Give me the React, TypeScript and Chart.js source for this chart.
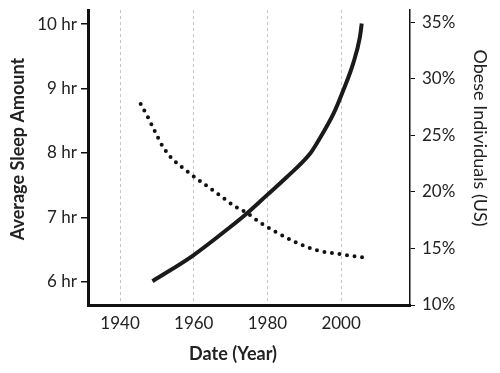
import React, { useEffect, useRef } from "react";
import { Chart, registerables } from "chart.js";

Chart.register(...registerables);

const obesityYears = [1948.8, 1959.9, 1969.9, 1974.4, 1979.8, 1985.2, 1991.6, 1993.4, 1997.9, 2000.6, 2003.3, 2005.1, 2005.6];
const obesityValues = [12.1, 14.4, 16.9, 18.1, 19.7, 21.3, 23.4, 24.3, 26.9, 29.0, 31.4, 33.7, 34.9];

const sleepYears = [1945.6, 1947.7, 1949.5, 1951.5, 1954, 1957.2, 1960.4, 1964, 1967.6, 1971.2, 1974.4, 1978, 1981.8, 1987.5, 1993.4, 1999.7, 2005.9];
const sleepValues = [8.76, 8.54, 8.33, 8.11, 7.92, 7.76, 7.62, 7.47, 7.32, 7.17, 7.07, 6.92, 6.79, 6.62, 6.49, 6.43, 6.38];

const xTicks = [1940, 1960, 1980, 2000];
const sleepTicks = [6, 7, 8, 9, 10];
const obesityTicks = [10, 15, 20, 25, 30, 35];

const FONT = "Lato";

export default function App() {
  const ref = useRef<HTMLCanvasElement | null>(null);
  useEffect(() => {
    if (!ref.current) return;
    const titles = {
      id: "axisTitles",
      afterDraw(chart: any) {
        const ctx = chart.ctx;
        ctx.save();
        ctx.fillStyle = "#222";
        ctx.font = `bold 18px ${FONT}`;
        ctx.textAlign = "center";
        ctx.textBaseline = "middle";
        ctx.fillText("Date (Year)", 233, 354);
        ctx.save();
        ctx.translate(18, 149);
        ctx.rotate(-Math.PI / 2);
        ctx.fillText("Average Sleep Amount", 0, 0);
        ctx.restore();
        ctx.save();
        ctx.translate(480, 138);
        ctx.rotate(Math.PI / 2);
        ctx.font = `18px ${FONT}`;
        ctx.fillText("Obese Individuals (US)", 0, 0);
        ctx.restore();
        ctx.restore();
      },
    };
    const chart = new Chart(ref.current, {
      type: "line",
      data: {
        datasets: [
          {
            label: "Obese Individuals",
            data: obesityYears.map((x, i) => ({ x, y: obesityValues[i] })),
            yAxisID: "yR",
            borderColor: "#1a1a1a",
            borderWidth: 4,
            pointRadius: 0,
            cubicInterpolationMode: "monotone",
            borderCapStyle: "butt",
          },
          {
            label: "Average Sleep",
            data: sleepYears.map((x, i) => ({ x, y: sleepValues[i] })),
            yAxisID: "yL",
            borderColor: "#111",
            borderWidth: 4,
            borderDash: [0, 7.6],
            borderCapStyle: "round",
            pointRadius: 0,
            cubicInterpolationMode: "monotone",
          },
        ],
      },
      options: {
        animation: false,
        responsive: true,
        maintainAspectRatio: false,
        layout: { padding: { top: 10, left: 0, right: 0, bottom: 0 } },
        plugins: { legend: { display: false }, tooltip: { enabled: false } },
        scales: {
          x: {
            type: "linear",
            min: 1931.3,
            max: 2018.7,
            afterBuildTicks: (s: any) => {
              s.ticks = xTicks.map((v) => ({ value: v }));
            },
            afterFit: (s: any) => {
              s.height = 68;
              s.paddingLeft = 0;
              s.paddingRight = 0;
            },
            grid: { color: "#c4c4c4", lineWidth: 1, drawTicks: false },
            border: { display: true, color: "#111", width: 3, dash: [3, 3] } as any,
            ticks: { color: "#222", font: { family: FONT, size: 17 }, padding: 8, callback: (v: any) => String(v) },
          },
          yL: {
            type: "linear",
            position: "left",
            min: 5.64,
            max: 10.22,
            afterBuildTicks: (s: any) => {
              s.ticks = sleepTicks.map((v) => ({ value: v }));
            },
            afterFit: (s: any) => {
              s.width = 88;
              s.paddingTop = 0;
              s.paddingBottom = 0;
            },
            grid: { drawOnChartArea: false, drawTicks: true, tickLength: 7, color: "#111", lineWidth: 1.5 },
            border: { display: true, color: "#111", width: 3 },
            ticks: { color: "#222", font: { family: FONT, size: 17 }, padding: 4, callback: (v: any) => `${v} hr` },
          },
          yR: {
            type: "linear",
            position: "right",
            min: 10,
            max: 36.1,
            afterBuildTicks: (s: any) => {
              s.ticks = obesityTicks.map((v) => ({ value: v }));
            },
            afterFit: (s: any) => {
              s.width = 90;
              s.paddingTop = 0;
              s.paddingBottom = 0;
            },
            grid: { drawOnChartArea: false, drawTicks: true, tickLength: 5, color: "#111", lineWidth: 1 },
            border: { display: true, color: "#111", width: 1.5 },
            ticks: { color: "#222", font: { family: FONT, size: 17 }, padding: 7, callback: (v: any) => `${v}%` },
          },
        },
      },
      plugins: [titles],
    } as any);
    return () => chart.destroy();
  }, []);
  return (
    <div style={{ position: "fixed", left: 0, top: 0, width: 500, height: 373, background: "#fff" }}>
      <canvas ref={ref} />
    </div>
  );
}
